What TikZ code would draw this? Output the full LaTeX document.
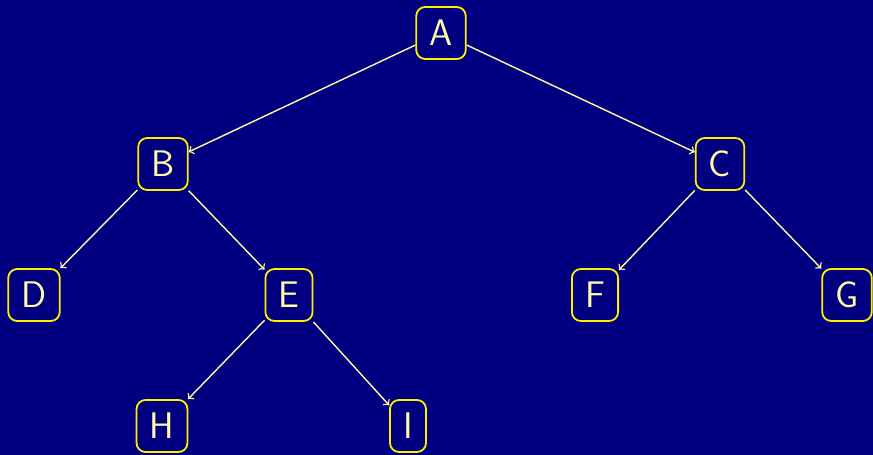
\documentclass[tikz,border=0pt]{standalone}
\usepackage{tikz}
\usetikzlibrary{positioning}
\definecolor{bgnavy}{RGB}{0,0,128}
\definecolor{boxyellow}{RGB}{255,240,0}
\definecolor{paleyellow}{RGB}{255,250,170}
\tikzset{
  tr_node/.style={
    draw=boxyellow, rectangle, rounded corners=4.5pt, line width=0.9pt,
    minimum height=26pt, inner xsep=6.6pt,
    text=paleyellow, font=\sffamily\fontsize{18.5}{20}\selectfont
  },
  tr_arr/.style={->, draw=paleyellow, line width=0.7pt},
}

\begin{document}
\begin{tikzpicture}[x=0.5pt, y=-0.5pt]

% background and frame
\fill[bgnavy] (0,0) rectangle (873,455);
\useasboundingbox (0,0) rectangle (873,455);

\node[tr_node] (A) at (441,33)  {A};
\node[tr_node] (B) at (163,164) {B};
\node[tr_node] (C) at (720,164) {C};
\node[tr_node] (D) at (34,295)  {D};
\node[tr_node] (E) at (289,295) {E};
\node[tr_node] (F) at (595,295) {F};
\node[tr_node] (G) at (847,295) {G};
\node[tr_node] (H) at (162,426) {H};
\node[tr_node] (I) at (408,426) {I};

% Tree edges
\draw[tr_arr] (A) -- (B);
\draw[tr_arr] (A) -- (C);
\draw[tr_arr] (B) -- (D);
\draw[tr_arr] (B) -- (E);
\draw[tr_arr] (C) -- (F);
\draw[tr_arr] (C) -- (G);
\draw[tr_arr] (E) -- (H);
\draw[tr_arr] (E) -- (I);

\end{tikzpicture}
\end{document}
